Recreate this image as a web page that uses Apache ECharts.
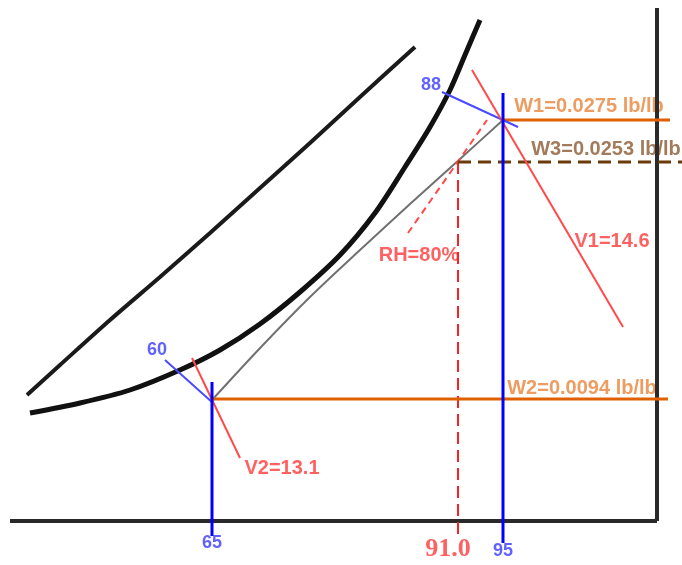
<!DOCTYPE html>
<html>
<head>
<meta charset="utf-8">
<script src="https://cdn.jsdelivr.net/npm/echarts@6/dist/echarts.min.js"></script>
<style>
  html, body { margin: 0; padding: 0; background: #fff; }
  #chart { width: 682px; height: 565px; }
</style>
</head>
<body>
<div id="chart"></div>
<script>
// sketch coordinates (x right, y down)
const saturationCurve = [[30,413],[80,403],[130,390],[180,370],[220,350],[260,324],[300,292],[340,255],[375,213],[405,167],[430,127],[450,90],[465,55],[480,20]]
const upperCurve = [[27,395],[60,365],[110,320],[160,277],[210,233],[260,188],[310,143],[360,97],[415,47]]
const mixingLine = [[212,400],[262,346],[310,297],[360,250],[410,204],[460,159],[503,120]]
const rhLine = [[408,233],[487,120]]
const frameBottom = [[10,521],[657,521]]
const frameRight = [[657,8],[657,521]]

const dryBulb65 = [[212,382],[212,536]]
const dryBulb95 = [[503,93],[503,543]]
const mix91 = [[458,162],[458,535]]
const wetBulb88 = [[442,92],[518,127]]
const wetBulb60 = [[165,360],[213,403]]
const volume1 = [[472,70],[623,327]]
const volume2 = [[192,358],[240,458]]
const humidity1 = [[503,120],[670,120]]
const humidity3 = [[458,162],[682,162]]
const humidity2 = [[212,399],[668,399]]

const blueLabels = [[431,85,'88'],[157,350,'60'],[212,543,'65'],[503,551,'95']]
const redLabels = [[612,241,'V1=14.6'],[282,468,'V2=13.1'],[419,255,'RH=80%']]
const orangeLabels = [[589,106,'W1=0.0275 lb/lb'],[582,388,'W2=0.0094 lb/lb']]
const brownLabels = [[606,149,'W3=0.0253 lb/lb']]
const tickLabel91 = [[448,549,'91.0']]

const line = (data, color, width, type, extra) => Object.assign({
  type: 'line', data: data, symbol: 'none', silent: true, clip: false,
  lineStyle: { color: color, width: width, type: type || 'solid' }
}, extra || {})

const text = (items, color, size, family, weight) => ({
  type: 'scatter', silent: true, clip: false, symbolSize: 0,
  data: items.map(d => ({ value: [d[0], d[1]], name: d[2] })),
  label: {
    show: true, position: 'inside', formatter: p => p.name,
    color: color, fontSize: size, fontFamily: family, fontWeight: weight
  }
})

const chart = echarts.init(document.getElementById('chart'))
chart.setOption({
  animation: false,
  grid: { left: 0, right: 0, top: 0, bottom: 0 },
  xAxis: { type: 'value', min: 0, max: 682, show: false },
  yAxis: { type: 'value', min: 0, max: 565, inverse: true, show: false },
  series: [
    line(frameBottom, '#2a2a2a', 4),
    line(frameRight, '#2a2a2a', 4),
    line(upperCurve, '#1a1a1a', 4, 'solid', { smooth: 0.3 }),
    line(saturationCurve, '#111', 5, 'solid', { smooth: 0.3 }),
    line(mixingLine, '#707070', 2, 'solid', { smooth: 0.3 }),
    line(rhLine, '#ff4a4a', 2, [7, 5]),
    line(mix91, '#ff2020', 2, [12, 6]),
    line(humidity2, '#e06000', 3),
    line(humidity1, '#e06000', 3),
    line(humidity3, '#6b3a0a', 3, [13, 7]),
    line(wetBulb88, '#4a4aff', 2),
    line(wetBulb60, '#4a4aff', 2),
    line(volume1, '#ff4a4a', 2),
    line(volume2, '#ff4a4a', 2),
    line(dryBulb65, '#0000ff', 3),
    line(dryBulb95, '#0000ff', 3),
    text(blueLabels, '#3a3aff', 18, 'Liberation Sans', 'bold'),
    text(redLabels, '#ff3a3a', 20, 'Liberation Sans', 'bold'),
    text(orangeLabels, '#e8843a', 20, 'Liberation Sans', 'bold'),
    text(brownLabels, '#8a5a32', 20, 'Liberation Sans', 'bold'),
    text(tickLabel91, '#ff3a3a', 26, 'Liberation Serif', 'bold')
  ]
})
</script>
</body>
</html>
